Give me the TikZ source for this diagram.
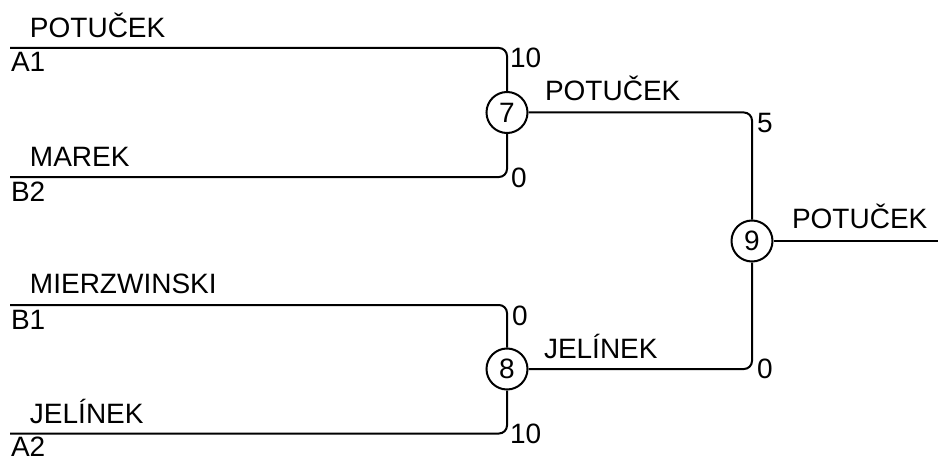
\documentclass[tikz,border=0pt]{standalone}
\usepackage{fontspec}
\setmainfont{Liberation Sans}
\begin{document}
\begin{tikzpicture}[x=1pt,y=-1pt,line width=2pt,
  match/.style={circle,draw,minimum size=41pt,inner sep=0pt,font=\fontsize{28}{30}\selectfont},
  lbl/.style={font=\fontsize{28}{30}\selectfont,inner sep=0pt,anchor=base west},
  wire/.style={rounded corners=8pt}]
\useasboundingbox (0,0) rectangle (938,460);
\node[match] (m7) at (507,112.5) {7};
\node[match] (m8) at (507,369) {8};
\node[match] (m9) at (752,241) {9};
\coordinate (a1) at (10,48);
\coordinate (b2) at (10,177);
\coordinate (b1) at (10,305);
\coordinate (a2) at (10,433.5);
\coordinate (out) at (938,241);
\draw[wire] (a1) -| (m7);
\draw[wire] (b2) -| (m7);
\draw[wire] (b1) -| (m8);
\draw[wire] (a2) -| (m8);
\draw[wire] (m7) -| (m9);
\draw[wire] (m8) -| (m9);
\draw (m9) -- (out);
% player names
\node[lbl] (t1) at (29,38) {POTUČEK};
\node[lbl] (t2) at (10,72) {A1};
\node[lbl] (t3) at (29,166) {MAREK};
\node[lbl] (t4) at (10,201) {B2};
\node[lbl] (t5) at (29,293) {MIERZWINSKI};
\node[lbl] (t6) at (10,329) {B1};
\node[lbl] (t7) at (29,423) {JELÍNEK};
\node[lbl] (t8) at (10,456) {A2};
\node[lbl] (w7) at (544,101) {POTUČEK};
\node[lbl] (w8) at (543,358) {JELÍNEK};
\node[lbl] (w9) at (791,228) {POTUČEK};
% scores
\node[lbl] (s1) at (509,68) {10};
\node[lbl] (s2) at (510,187) {0};
\node[lbl] (s3) at (511,325) {0};
\node[lbl] (s4) at (509,443) {10};
\node[lbl] (s5) at (756,132) {5};
\node[lbl] (s6) at (756,378) {0};
\end{tikzpicture}
\end{document}
